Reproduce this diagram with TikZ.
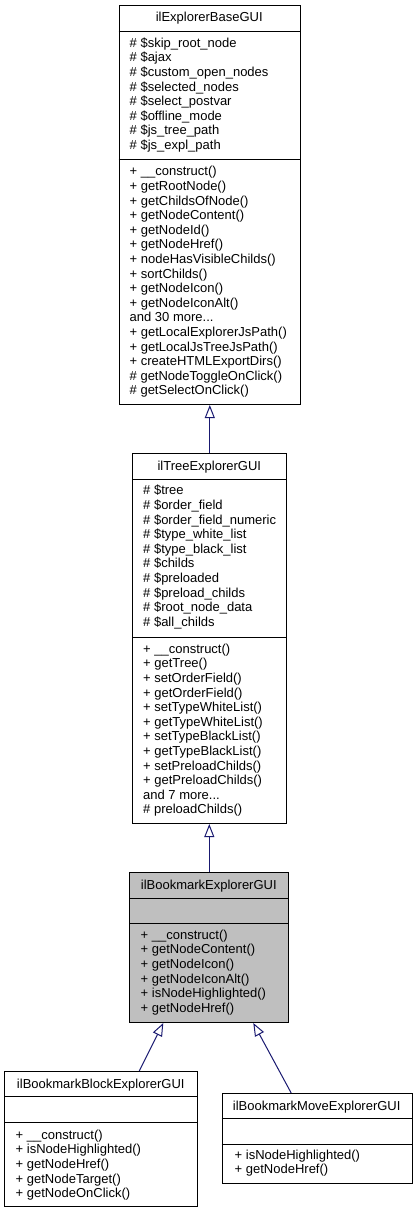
\documentclass[tikz,border=0pt]{standalone}
\usepackage{fontspec}
\setmainfont{Liberation Sans}
\usetikzlibrary{arrows.meta}
\definecolor{edgeblue}{HTML}{191970}
\definecolor{hlgray}{HTML}{BFBFBF}
\tikzset{
 classbox/.style={draw=black, line width=1pt, inner sep=0pt, anchor=north west},
 members/.style={anchor=north west, inner sep=0pt, align=left, font=\fontsize{13}{14.6}\selectfont},
 titletext/.style={anchor=base, inner sep=0pt, font=\fontsize{13}{14.6}\selectfont},
 divider/.style={draw=black, line width=1pt},
 inherit/.style={draw=edgeblue, line width=1pt, -{Triangle[open, length=13pt, width=10pt]}},
}
\newcommand{\fl}{\rule{0pt}{11pt}}
\begin{document}
\begin{tikzpicture}[x=1pt,y=-1pt]
\useasboundingbox (0,0) rectangle (418,1212);

% ---- ilExplorerBaseGUI
\node[classbox, minimum width=181.5pt, minimum height=399pt] (b1) at (118.5,5) {};
\draw[divider] (118.5,32) -- (300,32);
\draw[divider] (118.5,159) -- (300,159);
\node[titletext] (b1t) at (209.25,22) {ilExplorerBaseGUI};
\node[members] (b1a) at (129.5,36) {\fl\# \$skip\_root\_node\\\# \$ajax\\\# \$custom\_open\_nodes\\\# \$selected\_nodes\\\# \$select\_postvar\\\# \$offline\_mode\\\# \$js\_tree\_path\\\# \$js\_expl\_path};
\node[members] (b1m) at (129.5,164.7) {\fl+ \_\_construct()\\+ getRootNode()\\+ getChildsOfNode()\\+ getNodeContent()\\+ getNodeId()\\+ getNodeHref()\\+ nodeHasVisibleChilds()\\+ sortChilds()\\+ getNodeIcon()\\+ getNodeIconAlt()\\and 30 more...\\+ getLocalExplorerJsPath()\\+ getLocalJsTreeJsPath()\\+ createHTMLExportDirs()\\\# getNodeToggleOnClick()\\\# getSelectOnClick()};

% ---- ilTreeExplorerGUI
\node[classbox, minimum width=154pt, minimum height=370pt] (b2) at (132.3,453) {};
\draw[divider] (132.3,479) -- (286.3,479);
\draw[divider] (132.3,637) -- (286.3,637);
\node[titletext] (b2t) at (209.3,470.5) {ilTreeExplorerGUI};
\node[members] (b2a) at (143,483.7) {\fl\# \$tree\\\# \$order\_field\\\# \$order\_field\_numeric\\\# \$type\_white\_list\\\# \$type\_black\_list\\\# \$childs\\\# \$preloaded\\\# \$preload\_childs\\\# \$root\_node\_data\\\# \$all\_childs};
\node[members] (b2m) at (143,642) {\fl+ \_\_construct()\\+ getTree()\\+ setOrderField()\\+ getOrderField()\\+ setTypeWhiteList()\\+ getTypeWhiteList()\\+ setTypeBlackList()\\+ getTypeBlackList()\\+ setPreloadChilds()\\+ getPreloadChilds()\\and 7 more...\\\# preloadChilds()};

% ---- ilBookmarkExplorerGUI
\node[classbox, fill=hlgray, minimum width=159pt, minimum height=150pt] (b3) at (129.3,872) {};
\draw[divider] (129.3,898) -- (288.3,898);
\draw[divider] (129.3,923) -- (288.3,923);
\node[titletext] (b3t) at (208.8,889.5) {ilBookmarkExplorerGUI};
\node[members] (b3m) at (140.5,928) {\fl+ \_\_construct()\\+ getNodeContent()\\+ getNodeIcon()\\+ getNodeIconAlt()\\+ isNodeHighlighted()\\+ getNodeHref()};

% ---- ilBookmarkBlockExplorerGUI
\node[classbox, minimum width=193pt, minimum height=135pt] (b4) at (4.3,1071) {};
\draw[divider] (4.3,1096) -- (197.3,1096);
\draw[divider] (4.3,1122) -- (197.3,1122);
\node[titletext] (b4t) at (100.8,1088) {ilBookmarkBlockExplorerGUI};
\node[members] (b4m) at (15.5,1128) {\fl+ \_\_construct()\\+ isNodeHighlighted()\\+ getNodeHref()\\+ getNodeTarget()\\+ getNodeOnClick()};

% ---- ilBookmarkMoveExplorerGUI
\node[classbox, minimum width=190pt, minimum height=90pt] (b5) at (221.7,1093) {};
\draw[divider] (221.7,1118) -- (411.7,1118);
\draw[divider] (221.7,1144) -- (411.7,1144);
\node[titletext] (b5t) at (316.7,1110) {ilBookmarkMoveExplorerGUI};
\node[members] (b5m) at (234.5,1148) {\fl+ isNodeHighlighted()\\+ getNodeHref()};

% ---- inheritance edges
\draw[inherit] (b2.north) -- (b2.north |- b1.south);
\draw[inherit] (b3.north) -- (b3.north |- b2.south);
\draw[inherit] ([xshift=135pt]b4.north west) -- ([xshift=34pt]b3.south west);
\draw[inherit] ([xshift=69.5pt]b5.north west) -- ([xshift=124pt]b3.south west);
\end{tikzpicture}
\end{document}
